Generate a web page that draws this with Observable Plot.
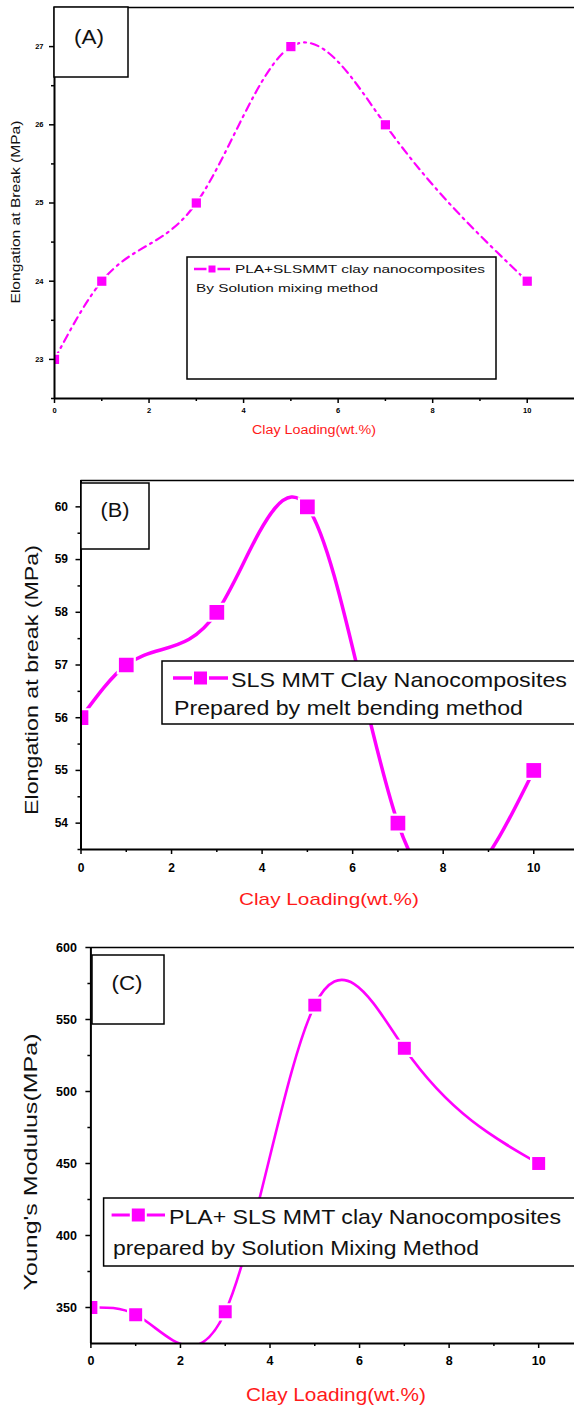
<!DOCTYPE html>
<html><head><meta charset="utf-8">
<script src="https://cdn.jsdelivr.net/npm/d3@7"></script>
<script src="https://cdn.jsdelivr.net/npm/@observablehq/plot@0.6"></script>
<style>
html,body{margin:0;padding:0;background:#fff;}
#wrap{position:relative;width:574px;height:1408px;overflow:hidden;background:#fff;}
#wrap > svg{position:absolute;left:0;}
</style></head><body><div id="wrap"></div>
<script>
// ---- data ----
const clayLoading = [0, 1, 3, 5, 7, 10];
const elongationA = [23, 24, 25, 27, 26, 24];
const elongationB = [56, 57, 58, 60, 54, 55];
const modulusC = [350, 345, 347, 560, 530, 450];
const xTicks = [0, 2, 4, 6, 8, 10];
const xMinorTicks = [1, 3, 5, 7, 9];
const yTicksA = [23, 24, 25, 26, 27];
const yMinorA = [22.5, 23.5, 24.5, 25.5, 26.5];
const yTicksB = [54, 55, 56, 57, 58, 59, 60];
const yMinorB = [53.5, 54.5, 55.5, 56.5, 57.5, 58.5, 59.5];
const yTicksC = [350, 400, 450, 500, 550, 600];
const yMinorC = [375, 425, 475, 525, 575];
const xTitle = "Clay Loading(wt.%)";
const yTitleA = "Elongation at Break (MPa)";
const yTitleB = "Elongation at break (MPa)";
const yTitleC = "Young's Modulus(MPa)";
const legendA = ["PLA+SLSMMT clay nanocomposites", "By Solution mixing method"];
const legendB = ["SLS MMT Clay Nanocomposites", "Prepared by melt bending method"];
const legendC = ["PLA+ SLS MMT clay Nanocomposites", "prepared by Solution Mixing Method"];
const panelLabels = ["(A)", "(B)", "(C)"];

const MAG = "#ff00ff";
const wrap = document.getElementById("wrap");

// Natural cubic spline y(x) as a d3-style curve factory (like Origin's "Spline" connector)
function splineX(context) {
  let xs, ys;
  return {
    areaStart() {}, areaEnd() {},
    lineStart() { xs = []; ys = []; },
    point(x, y) { xs.push(+x); ys.push(+y); },
    lineEnd() {
      const n = xs.length;
      if (!n) return;
      context.moveTo(xs[0], ys[0]);
      if (n === 1) return;
      if (n === 2) { context.lineTo(xs[1], ys[1]); return; }
      const h = [], s = [];
      for (let i = 0; i < n - 1; i++) { h.push(xs[i + 1] - xs[i]); s.push((ys[i + 1] - ys[i]) / h[i]); }
      const m = n - 2, a = [], b = [], c = [], d = [];
      for (let k = 0; k < m; k++) {
        const i = k + 1;
        a.push(h[i - 1]); b.push(2 * (h[i - 1] + h[i])); c.push(h[i]); d.push(6 * (s[i] - s[i - 1]));
      }
      for (let k = 1; k < m; k++) { const w = a[k] / b[k - 1]; b[k] -= w * c[k - 1]; d[k] -= w * d[k - 1]; }
      const M = new Array(n).fill(0);
      for (let k = m - 1; k >= 0; k--) M[k + 1] = (d[k] - (k < m - 1 ? c[k] * M[k + 2] : 0)) / b[k];
      for (let i = 0; i < n - 1; i++) {
        const hi = h[i];
        const m0 = s[i] - hi * (2 * M[i] + M[i + 1]) / 6;
        const m1 = s[i] + hi * (M[i] + 2 * M[i + 1]) / 6;
        context.bezierCurveTo(xs[i] + hi / 3, ys[i] + m0 * hi / 3, xs[i + 1] - hi / 3, ys[i + 1] - m1 * hi / 3, xs[i + 1], ys[i + 1]);
      }
    }
  };
}

function panel(o) {
  const data = clayLoading.map((x, i) => ({x, y: o.values[i]}));
  const p = Plot.plot({
    width: 574, height: o.height,
    marginTop: o.mt, marginBottom: o.mb, marginLeft: o.ml, marginRight: 0,
    x: {domain: [0, o.xMax]},
    y: {domain: o.yDomain},
    style: {fontFamily: "Liberation Sans, Arial, sans-serif", background: "transparent", color: "#000", fontWeight: "bold", fontSize: o.tf + "px"},
    marks: [
      Plot.line(data, {x: "x", y: "y", curve: splineX, stroke: MAG, strokeWidth: o.lw, strokeDasharray: o.dash, clip: true}),
      Plot.dot(data, {x: "x", y: "y", symbol: "square", r: o.r + o.gap, fill: "white", stroke: "none", clip: true}),
      Plot.dot(data, {x: "x", y: "y", symbol: "square", r: o.r, fill: MAG, stroke: "none", clip: true}),
      Plot.axisX({ticks: xTicks, tickSize: 5, tickPadding: o.xpad, fontSize: o.tf, label: null, tickFormat: d => String(d), strokeWidth: 1.5}),
      Plot.axisX({ticks: xMinorTicks, tickSize: 3, tickFormat: () => "", label: null, strokeWidth: 1.5}),
      Plot.axisY({ticks: o.yTicks, tickSize: 5, tickPadding: o.ypad, fontSize: o.tf, label: null, tickFormat: d => String(d), strokeWidth: 1.5}),
      Plot.axisY({ticks: o.yMinor, tickSize: 3, tickFormat: () => "", label: null, strokeWidth: 1.5}),
      Plot.ruleY([o.yDomain[1]], {stroke: "#000", strokeWidth: 1.5}),
      Plot.ruleY([o.yDomain[0]], {stroke: "#000", strokeWidth: 2}),
      Plot.ruleX([0], {stroke: "#000", strokeWidth: 2})
    ]
  });
  p.style.top = o.top + "px";
  wrap.appendChild(p);
}

panel({top: 0, height: 440, mt: 7, mb: 42, ml: 54, xMax: 11, yDomain: [22.5, 27.5],
  yTicks: yTicksA, yMinor: yMinorA, values: elongationA, lw: 2.2, dash: "8,5,2,5", r: 5.2, gap: 2,
  tf: 7.5, xpad: 4, ypad: 6});
panel({top: 440, height: 470, mt: 40, mb: 61, ml: 80.5, xMax: 10.9, yDomain: [53.5, 60.5],
  yTicks: yTicksB, yMinor: yMinorB, values: elongationB, lw: 3.5, dash: null, r: 8.3, gap: 2.5,
  tf: 12, xpad: 9, ypad: 8});
panel({top: 910, height: 498, mt: 37, mb: 65, ml: 90.4, xMax: 10.8, yDomain: [325, 600],
  yTicks: yTicksC, yMinor: yMinorC, values: modulusC, lw: 2.6, dash: null, r: 7.3, gap: 2.5,
  tf: 12.5, xpad: 8, ypad: 9});

// ---- overlay: label boxes, titles, legends ----
const ov = d3.select(wrap).append("svg")
  .attr("width", 574).attr("height", 1408).style("top", "0px")
  .style("font-family", "Liberation Sans, Arial, sans-serif");

function fitText(x, y, str, size, len, opts = {}) {
  const t = ov.append("text")
    .attr("x", x).attr("y", y)
    .attr("font-size", size)
    .attr("dominant-baseline", "central")
    .attr("fill", opts.fill || "#111")
    .attr("text-anchor", opts.anchor || "start")
    .attr("textLength", len).attr("lengthAdjust", "spacingAndGlyphs")
    .text(str);
  if (opts.rotate) t.attr("transform", `rotate(-90 ${x} ${y})`);
  return t;
}

// label boxes
[[54, 7, 74, 70, 89, 37, 30], [81, 483, 68, 66, 115, 510, 29], [92, 955, 72, 69, 127, 983, 31]].forEach((b, i) => {
  ov.append("rect").attr("x", b[0]).attr("y", b[1]).attr("width", b[2]).attr("height", b[3])
    .attr("fill", "white").attr("stroke", "#000").attr("stroke-width", 1.5);
  fitText(b[4], b[5], panelLabels[i], 20, b[6], {anchor: "middle"});
});

// axis titles
fitText(16, 212, yTitleA, 12.5, 183, {anchor: "middle", rotate: true});
fitText(314, 430, xTitle, 12.5, 124, {anchor: "middle", fill: "#ff1a1a"});
fitText(31, 680, yTitleB, 19, 270, {anchor: "middle", rotate: true});
fitText(329, 899, xTitle, 17, 180, {anchor: "middle", fill: "#ff1a1a"});
fitText(30, 1162, yTitleC, 19, 257, {anchor: "middle", rotate: true});
fitText(336, 1395, xTitle, 18, 180, {anchor: "middle", fill: "#ff1a1a"});

// legends
function legend(box, lx0, lx1, ly, sq, lw, lines) {
  ov.append("rect").attr("x", box[0]).attr("y", box[1]).attr("width", box[2]).attr("height", box[3])
    .attr("fill", "white").attr("stroke", "#000").attr("stroke-width", 1.5);
  ov.append("line").attr("x1", lx0).attr("x2", lx1).attr("y1", ly).attr("y2", ly)
    .attr("stroke", MAG).attr("stroke-width", lw);
  const cx = (lx0 + lx1) / 2;
  ov.append("rect").attr("x", cx - sq / 2 - 2).attr("y", ly - sq / 2 - 2).attr("width", sq + 4).attr("height", sq + 4).attr("fill", "white");
  ov.append("rect").attr("x", cx - sq / 2).attr("y", ly - sq / 2).attr("width", sq).attr("height", sq).attr("fill", MAG);
  lines.forEach(l => fitText(l[0], l[1], l[2], l[3], l[4]));
}
legend([187, 257, 309, 122], 194, 230, 269, 7, 2.5,
  [[235, 269, legendA[0], 11, 250], [196, 288, legendA[1], 11, 182]]);
legend([162, 661, 430, 63], 173, 228, 678, 13, 3.5,
  [[231, 679, legendB[0], 21, 336], [174, 707, legendB[1], 21, 349]]);
legend([103.6, 1198, 480, 68], 111.6, 165, 1215, 13, 3,
  [[169, 1216, legendC[0], 21, 392], [113, 1247, legendC[1], 21, 366]]);
</script>
</body></html>
